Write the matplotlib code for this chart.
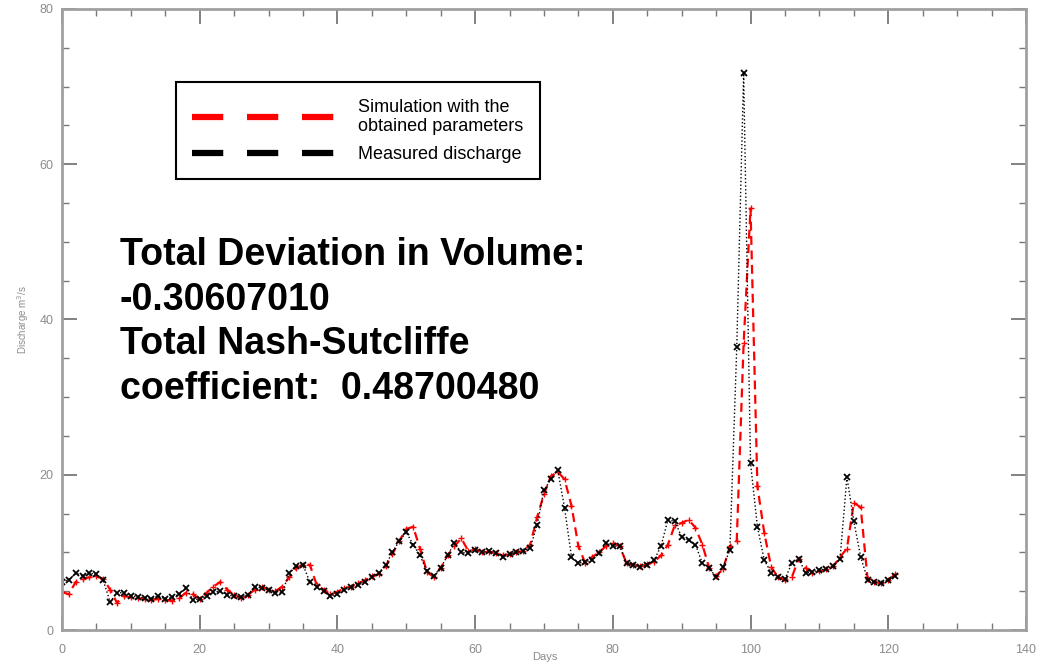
import matplotlib
matplotlib.use("Agg")
import matplotlib.pyplot as plt
from matplotlib.lines import Line2D
from matplotlib.ticker import MultipleLocator
import numpy as np

plt.rcParams['font.family'] = ['Liberation Sans', 'DejaVu Sans']

# measured discharge (black), one value per day starting at day 0
measured = [6.2, 6.5, 7.3, 7.0, 7.3, 7.2, 6.4, 3.6, 4.8, 4.8,
            4.4, 4.3, 4.1, 4.0, 4.4, 4.0, 4.2, 4.6, 5.4, 3.9,
            4.0, 4.4, 4.9, 5.0, 4.5, 4.4, 4.2, 4.5, 5.6, 5.4,
            5.2, 4.8, 4.9, 7.3, 8.2, 8.4, 6.2, 5.6, 5.0, 4.4,
            4.6, 5.2, 5.6, 5.8, 6.2, 6.8, 7.3, 8.4, 10.0, 11.5,
            12.6, 11.0, 9.6, 7.6, 7.0, 8.0, 9.6, 11.2, 10.0, 9.9,
            10.3, 10.0, 10.2, 9.9, 9.4, 9.8, 10.0, 10.2, 10.6, 13.5,
            18.0, 19.4, 20.6, 15.7, 9.4, 8.6, 8.8, 9.0, 9.9, 11.2,
            10.8, 10.8, 8.6, 8.4, 8.1, 8.4, 9.0, 10.8, 14.2, 14.0,
            12.0, 11.6, 11.0, 8.6, 8.0, 6.8, 8.1, 10.3, 36.4, 71.7,
            21.5, 13.3, 9.0, 7.4, 6.8, 6.6, 8.6, 9.2, 7.3, 7.5,
            7.7, 7.9, 8.2, 9.2, 19.7, 14.0, 9.4, 6.5, 6.2, 6.0,
            6.4, 7.0]

# simulation with the obtained parameters (red)
simulated = [4.9, 4.6, 6.2, 6.6, 6.8, 6.9, 6.6, 5.2, 3.5, 4.4,
             4.2, 4.1, 4.0, 3.9, 4.0, 3.9, 3.8, 4.1, 4.8, 4.6,
             4.0, 4.8, 5.6, 6.2, 5.2, 4.5, 4.1, 4.5, 5.2, 5.6,
             5.2, 5.0, 5.6, 6.8, 8.0, 8.4, 8.4, 5.8, 5.2, 4.6,
             4.9, 5.4, 5.6, 6.0, 6.4, 6.9, 7.2, 8.2, 9.8, 11.5,
             13.0, 13.3, 10.5, 7.5, 6.8, 8.0, 9.6, 10.8, 11.8, 10.2,
             10.4, 10.0, 10.1, 9.9, 9.6, 9.8, 10.0, 10.2, 11.0, 14.5,
             17.5, 19.8, 20.4, 19.4, 16.0, 10.8, 8.6, 9.4, 10.0, 10.8,
             11.2, 10.8, 8.6, 8.4, 8.2, 8.5, 8.8, 9.6, 11.0, 13.5,
             13.8, 14.2, 13.2, 11.0, 8.0, 7.0, 7.8, 10.8, 11.5, 37.0,
             54.3, 18.5, 12.5, 8.1, 6.8, 6.4, 6.8, 9.2, 8.0, 7.4,
             7.6, 7.8, 8.2, 9.4, 10.5, 16.4, 15.8, 6.6, 6.2, 6.0,
             6.4, 7.2]

days = np.arange(len(measured))

summary = ("Total Deviation in Volume:\n-0.30607010\n"
           "Total Nash-Sutcliffe\ncoefficient:  0.48700480")

grey = '#8c8c8c'

fig = plt.figure(figsize=(10.5, 6.65), dpi=100)
ax = fig.add_axes([0.059, 0.0526, 0.9181, 0.9339])

ax.plot(days, simulated, color='red', linestyle='--', linewidth=1.6,
        marker='+', markersize=4, dashes=(4, 2.5))
ax.plot(days, measured, color='black', linestyle=':', linewidth=1.0,
        marker='x', markersize=5, markeredgewidth=1.3)

ax.set_xlim(0, 140)
ax.set_ylim(0, 80)
ax.xaxis.set_major_locator(MultipleLocator(20))
ax.xaxis.set_minor_locator(MultipleLocator(5))
ax.yaxis.set_major_locator(MultipleLocator(20))
ax.yaxis.set_minor_locator(MultipleLocator(5))

for side in ax.spines.values():
    side.set_color('#a0a0a0')
    side.set_linewidth(2)

ax.tick_params(which='both', direction='in', top=True, right=True,
               colors='#777777', labelcolor=grey, labelsize=9)
ax.tick_params(which='major', length=11, width=1.3)
ax.tick_params(which='minor', length=5, width=1)
ax.tick_params(axis='x', pad=10)
ax.tick_params(axis='y', pad=6)

# axis titles sit very low / far left in the original
fig.text(0.519, 0.012, "Days", fontsize=8, color=grey, ha='center',
         va='center')
ax.set_ylabel("Discharge m$^3$/s", fontsize=7, color=grey, labelpad=6)

handles = [Line2D([], [], color='red', linewidth=4.5, dashes=(5, 3.8),
                  solid_capstyle='butt', dash_capstyle='butt'),
           Line2D([], [], color='black', linewidth=4.5, dashes=(5, 3.8),
                  solid_capstyle='butt', dash_capstyle='butt')]
leg = ax.legend(handles, ["Simulation with the\nobtained parameters",
                          "Measured discharge"],
                loc='upper left', bbox_to_anchor=(0.118, 0.882),
                borderaxespad=0, fontsize=13, handlelength=7.9,
                handletextpad=1.3, borderpad=0.9, labelspacing=0.6,
                fancybox=False, edgecolor='black', framealpha=1)
leg.get_frame().set_linewidth(1.5)

ax.text(0.0602, 0.496, summary, transform=ax.transAxes, fontsize=27.0,
        fontweight='bold', va='center', ha='left', linespacing=1.31)

fig.savefig("out.png", dpi=100)
